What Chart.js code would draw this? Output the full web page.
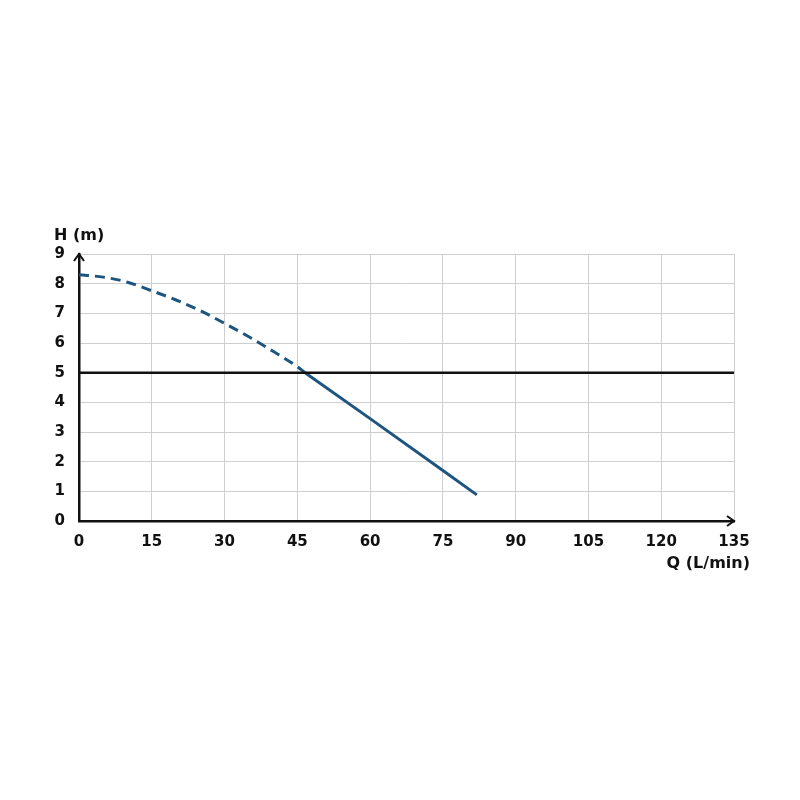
<!DOCTYPE html>
<html>
<head>
<meta charset="utf-8">
<script src="https://cdn.jsdelivr.net/npm/chart.js@4"></script>
<style>
  html, body { margin: 0; padding: 0; background: #fff; }
  #wrap { width: 800px; height: 800px; }
</style>
</head>
<body>
<div id="wrap"><canvas id="myChart" width="800" height="800"></canvas></div>
<script>
// caudal (L/min) y altura (m)
const qDashed = [0, 5, 10, 15, 20, 25, 30, 35, 40, 45, 46.6];
const hDashed = [8.3, 8.22, 8.05, 7.76, 7.45, 7.09, 6.66, 6.21, 5.72, 5.2, 5.0];
const qSolid = [46.6, 60, 75, 82];
const hSolid = [5.0, 3.45, 1.7, 0.88];
const qRef = [0, 135];
const hRef = [5, 5];
const xTicks = [0, 15, 30, 45, 60, 75, 90, 105, 120, 135];
const yTicks = [0, 1, 2, 3, 4, 5, 6, 7, 8, 9];

const blue = '#1d5581';
const font = { family: '"DejaVu Sans", sans-serif', size: 15, weight: 'bold' };

function pts(xs, ys) {
  return xs.map((x, i) => ({ x: x, y: ys[i] }));
}

// titulos de ejes y flechas
const extras = {
  id: 'extras',
  afterDraw(chart) {
    const ctx = chart.ctx;
    const a = chart.chartArea;
    ctx.save();
    ctx.fillStyle = '#111';
    ctx.strokeStyle = '#111';
    ctx.lineWidth = 2;
    // flecha eje y
    ctx.beginPath();
    ctx.moveTo(a.left - 5, a.top + 7);
    ctx.lineTo(a.left, a.top);
    ctx.lineTo(a.left + 5, a.top + 7);
    ctx.stroke();
    // flecha eje x
    ctx.beginPath();
    ctx.moveTo(a.right - 7, a.bottom - 5);
    ctx.lineTo(a.right, a.bottom);
    ctx.lineTo(a.right - 7, a.bottom + 5);
    ctx.stroke();
    ctx.font = 'bold 16px "DejaVu Sans", sans-serif';
    ctx.textBaseline = 'middle';
    ctx.textAlign = 'left';
    ctx.fillText('H (m)', 54, 236);
    ctx.textAlign = 'right';
    ctx.fillText('Q (L/min)', 750, 564);
    ctx.restore();
  }
};

const data = {
  datasets: [
    {
      label: 'ref',
      data: pts(qRef, hRef),
      borderColor: '#111',
      borderWidth: 2.5,
      pointRadius: 0
    },
    {
      label: 'dashed',
      data: pts(qDashed, hDashed),
      borderColor: blue,
      borderWidth: 3,
      borderDash: [10, 6],
      pointRadius: 0,
      cubicInterpolationMode: 'monotone'
    },
    {
      label: 'solid',
      data: pts(qSolid, hSolid),
      borderColor: blue,
      borderWidth: 3,
      pointRadius: 0
    }
  ]
};

const config = {
  type: 'line',
  data: data,
  plugins: [extras],
  options: {
    responsive: false,
    animation: false,
    layout: { padding: { top: 254, right: 66, bottom: 219, left: 0 } },
    plugins: { legend: { display: false }, tooltip: { enabled: false } },
    scales: {
      x: {
        type: 'linear',
        min: 0,
        max: 135,
        afterBuildTicks: (s) => { s.ticks = xTicks.map(v => ({ value: v })); },
        afterFit: (s) => { s.height = 60; },
        grid: { color: '#cfcfcf', lineWidth: 1, drawTicks: false },
        border: { color: '#111', width: 2.5 },
        ticks: { color: '#111', font: font, padding: 12, maxRotation: 0 }
      },
      y: {
        type: 'linear',
        min: 0,
        max: 9,
        afterBuildTicks: (s) => { s.ticks = yTicks.map(v => ({ value: v })); },
        afterFit: (s) => { s.width = 79; },
        grid: { color: '#cfcfcf', lineWidth: 1, drawTicks: false },
        border: { color: '#111', width: 2.5 },
        ticks: { color: '#111', font: font, padding: 14 }
      }
    }
  }
};

const ctx = document.getElementById('myChart').getContext('2d');
const myChart = new Chart(ctx, config);
</script>
</body>
</html>
